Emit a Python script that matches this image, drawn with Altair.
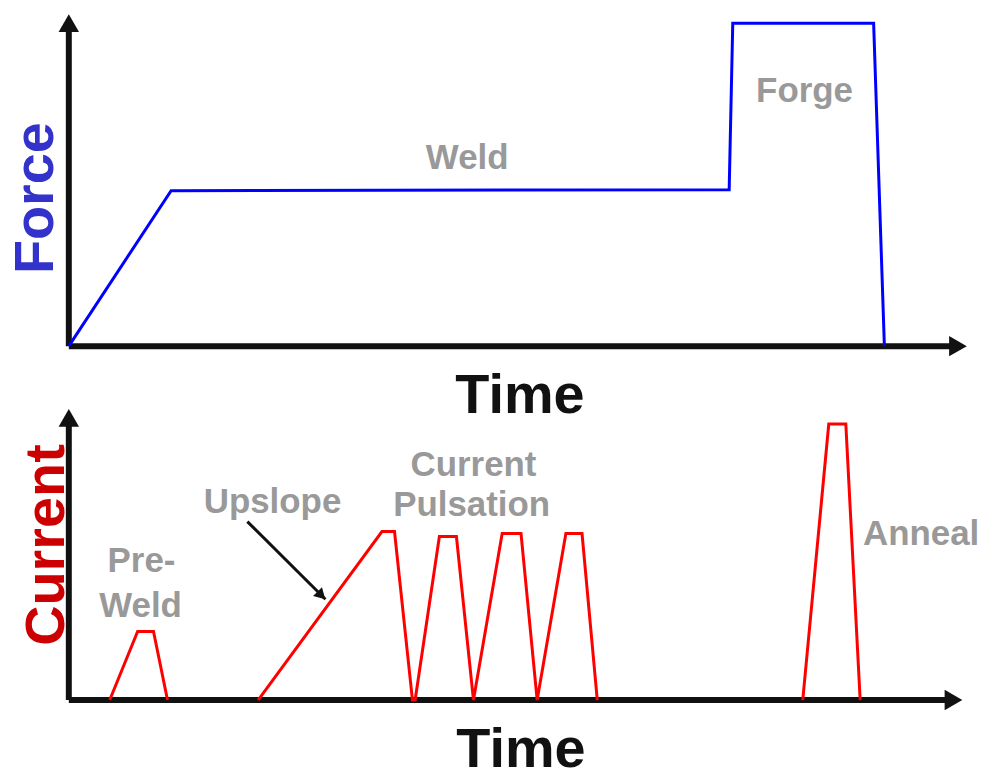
import altair as alt
import pandas as pd

# ---------------- data ----------------
# Force vs time (top panel)
force_time = [0, 11.4, 73.6, 74.0, 89.7, 90.9]
force_value = [0, 46.7, 47.0, 97.0, 97.0, 0]

# Current vs time (bottom panel), three separate traces
preweld_time = [4.56, 7.67, 9.44, 11.0]
preweld_value = [0, 23.5, 23.5, 0]
weld_time = [21.1, 34.9, 36.3, 38.3, 38.6, 41.3, 43.2, 45.1, 48.3, 50.4, 52.2, 55.4, 57.2, 58.9]
weld_value = [0, 57.7, 57.7, 0, 0, 56.0, 56.0, 0, 57.0, 57.0, 0, 57.0, 57.0, 0]
anneal_time = [81.8, 84.7, 86.6, 88.2]
anneal_value = [0, 94.5, 94.5, 0]

# annotation texts (anchored in data units)
force_labels = ["Weld", "Forge"]
force_label_time = [44.4, 82.0]
force_label_value = [53.3, 73.4]

current_labels = ["Pre-", "Weld", "Upslope", "Current", "Pulsation", "Anneal"]
current_label_time = [8.1, 8.0, 22.7, 45.1, 44.9, 95.0]
current_label_value = [43.7, 28.3, 64.2, 76.8, 63.1, 53.2]

# upslope pointer (from, to) in data units
pointer_time = [19.9, 28.6]
pointer_value = [61.1, 34.5]

# axis extents (arrow shafts and arrow heads) in data units
top_axis_end = [98.5, 95.0]      # x-shaft end, y-shaft end
top_arrow_head = [99.1, 97.0]    # right-arrow time, up-arrow value
bot_axis_end = [98.0, 95.0]
bot_arrow_head = [98.6, 96.6]

# ---------------- styling ----------------
FONT = "Liberation Sans"
GREY = "#999999"
AXIS_COLOR = "#111111"
W = 900
H_TOP = 334
H_BOT = 293

XS = alt.Scale(domain=[0, 100], nice=False, zero=False)
YS = alt.Scale(domain=[0, 100], nice=False, zero=False)


def x_axis(title_x):
    return alt.Axis(domain=False, ticks=False, labels=False, grid=False,
                    title="Time", titleFont=FONT, titleFontSize=56,
                    titleFontWeight="bold", titleColor=AXIS_COLOR,
                    titleX=title_x, titleY=67, titleBaseline="alphabetic",
                    titleAlign="center")


def y_axis(title, color, tx, ty):
    return alt.Axis(domain=False, ticks=False, labels=False, grid=False,
                    title=title, titleFont=FONT, titleFontSize=56,
                    titleFontWeight="bold", titleColor=color, titleAngle=270,
                    titleX=tx, titleY=ty, titleBaseline="alphabetic",
                    titleAlign="center")


def panel(line_df, label_df, axis_end, head, xax, yax, line_color, height,
          extra_layers=()):
    X = lambda f: alt.X(f, type="quantitative", scale=XS, axis=xax)
    Y = lambda f: alt.Y(f, type="quantitative", scale=YS, axis=yax)

    hrule = alt.Chart(pd.DataFrame({"t": [0], "t2": [axis_end[0]], "v": [0]})).mark_rule(
        strokeWidth=6, color=AXIS_COLOR).encode(x=X("t"), x2="t2", y=Y("v"))
    vrule = alt.Chart(pd.DataFrame({"t": [0], "v": [0], "v2": [axis_end[1]]})).mark_rule(
        strokeWidth=6, color=AXIS_COLOR).encode(x=X("t"), y=Y("v"), y2="v2")
    head_r = alt.Chart(pd.DataFrame({"t": [head[0]], "v": [0]})).mark_point(
        shape="triangle-right", filled=True, size=420, color=AXIS_COLOR, opacity=1
    ).encode(x=X("t"), y=Y("v"))
    head_u = alt.Chart(pd.DataFrame({"t": [0], "v": [head[1]]})).mark_point(
        shape="triangle-up", filled=True, size=420, color=AXIS_COLOR, opacity=1
    ).encode(x=X("t"), y=Y("v"))

    line = alt.Chart(line_df).mark_line(color=line_color, strokeWidth=3,
                                        strokeJoin="miter").encode(
        x=X("t"), y=Y("v"), detail="seg:N", order="i:Q")

    text = alt.Chart(label_df).mark_text(font=FONT, fontSize=35, fontWeight="bold",
                                         color=GREY, baseline="alphabetic",
                                         align="center").encode(
        x=X("t"), y=Y("v"), text="label:N")

    return alt.layer(hrule, vrule, head_r, head_u, line, text, *extra_layers).properties(
        width=W, height=height)


# ---------------- tables ----------------
force_df = pd.DataFrame({"t": force_time, "v": force_value, "seg": "force",
                         "i": range(len(force_time))})
cur_rows = []
for seg, ts, vs in [("preweld", preweld_time, preweld_value),
                    ("weld", weld_time, weld_value),
                    ("anneal", anneal_time, anneal_value)]:
    for i, (t, v) in enumerate(zip(ts, vs)):
        cur_rows.append({"t": t, "v": v, "seg": seg, "i": i})
current_df = pd.DataFrame(cur_rows)

force_lab_df = pd.DataFrame({"label": force_labels, "t": force_label_time,
                             "v": force_label_value})
cur_lab_df = pd.DataFrame({"label": current_labels, "t": current_label_time,
                           "v": current_label_value})

# ---------------- panels ----------------
top = panel(force_df, force_lab_df, top_axis_end, top_arrow_head,
            x_axis(452), y_axis("Force", "#3333cc", -16, 185), "#0000ff", H_TOP)

xax_b = x_axis(453)
yax_b = y_axis("Current", "#cc0000", -5, 137)
Xb = lambda f: alt.X(f, type="quantitative", scale=XS, axis=xax_b)
Yb = lambda f: alt.Y(f, type="quantitative", scale=YS, axis=yax_b)

ptr_df = pd.DataFrame({"t": [pointer_time[0]], "t2": [pointer_time[1]],
                       "v": [pointer_value[0]], "v2": [pointer_value[1]]})
pointer = alt.Chart(ptr_df).mark_rule(strokeWidth=3, color=AXIS_COLOR).encode(
    x=Xb("t"), x2="t2", y=Yb("v"), y2="v2")
ptr_head = alt.Chart(pd.DataFrame({"t": [pointer_time[1] - 0.45],
                                   "v": [pointer_value[1] + 1.3]})).mark_point(
    shape="triangle-up", filled=True, size=160, angle=135, color=AXIS_COLOR, opacity=1
).encode(x=Xb("t"), y=Yb("v"))

bottom = panel(current_df, cur_lab_df, bot_axis_end, bot_arrow_head,
               xax_b, yax_b, "#ff0000", H_BOT, extra_layers=(pointer, ptr_head))

chart = alt.vconcat(top, bottom, spacing=62, bounds="flush").properties(
    padding={"left": 0, "top": 4, "right": 0, "bottom": 0},
    background="white",
).configure_view(stroke=None)

chart.save("out.html", embed_options={"renderer": "svg", "actions": False})
